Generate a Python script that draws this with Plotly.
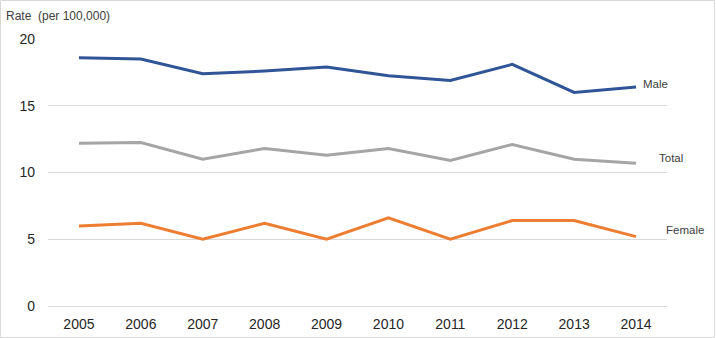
import plotly.graph_objects as go

years = ["2005", "2006", "2007", "2008", "2009", "2010", "2011", "2012", "2013", "2014"]
male = [18.6, 18.5, 17.4, 17.6, 17.9, 17.25, 16.9, 18.1, 16.0, 16.4]
total = [12.2, 12.25, 11.0, 11.8, 11.3, 11.8, 10.9, 12.1, 11.0, 10.7]
female = [6.0, 6.2, 5.0, 6.2, 5.0, 6.6, 5.0, 6.4, 6.4, 5.2]

series = [
    ("Male", male, "#2F5597", 5, 3),
    ("Total", total, "#A5A5A5", 21, 5),
    ("Female", female, "#ED7D31", 28, 7),
]

W, H = 716, 338
ml, mr, mt, mb = 48, 49, 39, 32
pw, ph = W - ml - mr, H - mt - mb

fig = go.Figure()
for name, vals, color, xs, ys in series:
    fig.add_trace(go.Scatter(x=years, y=vals, mode="lines", name=name,
                             line=dict(color=color, width=3), showlegend=False))
    fig.add_annotation(x=len(years) - 1, y=vals[-1], text=name, showarrow=False,
                       xanchor="left", yanchor="middle", xshift=xs, yshift=ys,
                       font=dict(size=11.5, color="#404040"))

fig.add_annotation(xref="paper", yref="paper", x=-44 / pw, y=(H - mb - 16) / ph,
                   text="Rate  (per 100,000)", showarrow=False, xanchor="left",
                   yanchor="middle", font=dict(size=12, color="#404040"))

fig.add_shape(type="rect", xref="paper", yref="paper",
              x0=-(ml - 0.5) / pw, x1=(W - 1.5 - ml) / pw,
              y0=-(mb - 0.5) / ph, y1=(H - mb - 0.5) / ph,
              line=dict(color="#D9D9D9", width=1), fillcolor="rgba(0,0,0,0)", layer="below")

fig.update_layout(
    width=W, height=H,
    margin=dict(l=ml, r=mr, t=mt, b=mb, autoexpand=False),
    paper_bgcolor="white", plot_bgcolor="white",
    font=dict(family="Liberation Sans, Arial, sans-serif", color="#262626"),
    xaxis=dict(type="category", range=[-0.5, 9.5], showgrid=False, showline=False,
               automargin=False,
               ticks="", tickfont=dict(size=14, color="#262626"), ticklabelstandoff=8),
    yaxis=dict(range=[0, 20], dtick=5, showgrid=True, gridcolor="#D9D9D9", gridwidth=1,
               automargin=False,
               zeroline=True, zerolinecolor="#D9D9D9", zerolinewidth=1, showline=False,
               ticks="", tickfont=dict(size=14, color="#262626"), ticklabelstandoff=12),
)

fig.write_html("out.html")
